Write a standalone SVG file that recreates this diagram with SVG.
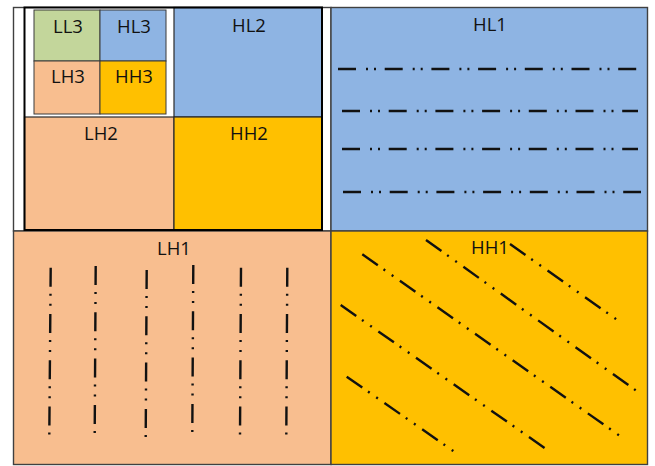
<svg xmlns="http://www.w3.org/2000/svg" width="655" height="466" viewBox="0 0 655 466">
<style>
.lbl{font-family:"Open Sans","Liberation Sans",sans-serif;font-size:18.5px;fill:#111;text-anchor:middle}
.q{stroke:#404040;stroke-width:1.4}
.b2{stroke:#2a2a2a;stroke-width:1.2}
.b3{stroke:#3a3a3a;stroke-width:1}
.green{fill:#C3D69B}.blue{fill:#8EB4E3}.peach{fill:#F8BE8F}.orange{fill:#FFC000}.white{fill:#FFFFFF}
.hp{fill:none;stroke:#111;stroke-width:2.4;stroke-dasharray:18 10 2 6 2 8.7}
.vp{fill:none;stroke:#111;stroke-width:2.4;stroke-dasharray:19 7 2 8 2 8.3}
.dp{fill:none;stroke:#111;stroke-width:2.4;stroke-dasharray:19 7 2 8 2 8}
</style>
<rect width="655" height="466" fill="#fff"/>
<g id="LL1">
<rect class="white q" x="13.5" y="7.5" width="317.5" height="223.5"/>
</g>
<g id="HL1">
<rect class="blue q" x="331" y="7.5" width="316.5" height="223.5"/>
<text class="lbl" x="490" y="30.5">HL1</text>
</g>
<g id="LH1">
<rect class="peach q" x="13.5" y="231" width="317.5" height="233.5"/>
<text class="lbl" x="174" y="255">LH1</text>
</g>
<g id="HH1">
<rect class="orange q" x="331" y="231" width="316.5" height="233.5"/>
<text class="lbl" x="490" y="254">HH1</text>
</g>
<g id="LL2">
<rect class="white" x="24.5" y="7.5" width="149.5" height="109.5"/>
</g>
<g id="HL2">
<rect class="blue b2" x="174" y="7.5" width="148" height="109.5"/>
<text class="lbl" x="249" y="31.5">HL2</text>
</g>
<g id="LH2">
<rect class="peach b2" x="24.5" y="117" width="149.5" height="113"/>
<text class="lbl" x="101" y="139.5">LH2</text>
</g>
<g id="HH2">
<rect class="orange b2" x="174" y="117" width="148" height="113"/>
<text class="lbl" x="249" y="139.5">HH2</text>
</g>
<rect x="24.5" y="7.5" width="297.5" height="222.5" fill="none" stroke="#000" stroke-width="2"/>
<g id="LL3">
<rect class="green b3" x="34" y="10" width="66" height="51"/>
<text class="lbl" x="68" y="33">LL3</text>
</g>
<g id="HL3">
<rect class="blue b3" x="100" y="10" width="66" height="51"/>
<text class="lbl" x="134" y="33">HL3</text>
</g>
<g id="LH3">
<rect class="peach b3" x="34" y="61" width="66" height="53"/>
<text class="lbl" x="68" y="83">LH3</text>
</g>
<g id="HH3">
<rect class="orange b3" x="100" y="61" width="66" height="53"/>
<text class="lbl" x="134" y="83">HH3</text>
</g>
<g id="patterns">
<line class="hp" x1="338" y1="69" x2="637" y2="69"/>
<line class="hp" x1="342" y1="111" x2="638" y2="111"/>
<line class="hp" x1="342" y1="149" x2="638" y2="149"/>
<line class="hp" x1="343" y1="192" x2="641" y2="192"/>
<line class="vp" x1="50.7" y1="267.7" x2="49.3" y2="436"/>
<line class="vp" x1="95.7" y1="266" x2="94.7" y2="434"/>
<line class="vp" x1="146.7" y1="270" x2="145.7" y2="438"/>
<line class="vp" x1="193.3" y1="265" x2="192.3" y2="433"/>
<line class="vp" x1="241" y1="267.7" x2="240" y2="436"/>
<line class="vp" x1="287.3" y1="267.7" x2="286.3" y2="436"/>
<line class="dp" x1="426" y1="240" x2="637.5" y2="391.6"/>
<line class="dp" x1="510" y1="244" x2="618" y2="320.5"/>
<line class="dp" x1="362.3" y1="254.3" x2="621.8" y2="437.3"/>
<line class="dp" x1="340.7" y1="305" x2="546" y2="449"/>
<line class="dp" x1="346.7" y1="376.7" x2="454" y2="451.5"/>
</g>
</svg>
